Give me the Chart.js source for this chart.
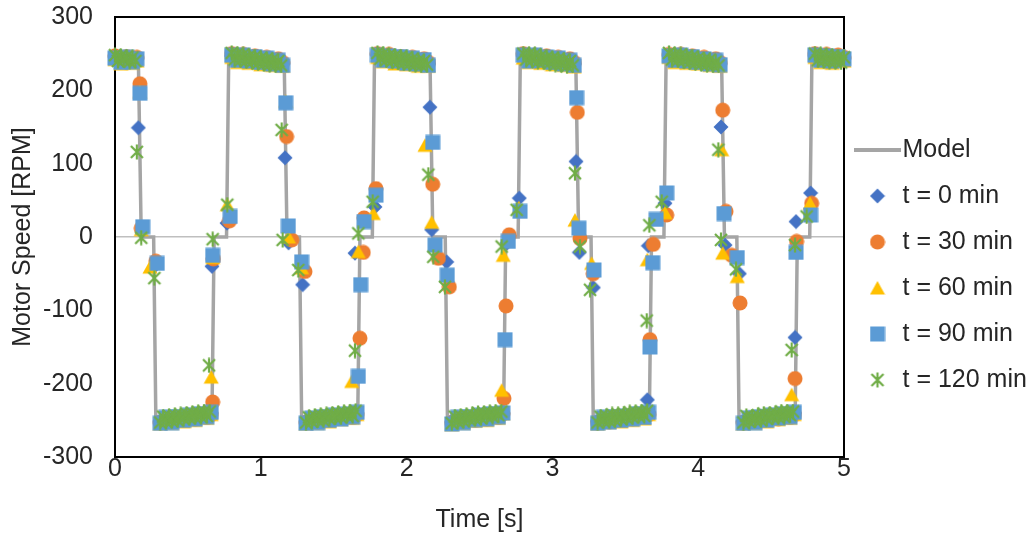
<!DOCTYPE html>
<html>
<head>
<meta charset="utf-8">
<script src="https://cdn.jsdelivr.net/npm/chart.js@4.4.1/dist/chart.umd.min.js"></script>
<style>
  html, body { margin: 0; padding: 0; background: #fff; }
  canvas { display: block; }
</style>
</head>
<body>
<canvas id="grafico" width="1034" height="535"></canvas>
<script>
const seriesNames = ["Model", "t = 0 min", "t = 30 min", "t = 60 min", "t = 90 min", "t = 120 min"];
const xTicks = [0, 1, 2, 3, 4, 5];
const yTicks = [-300, -200, -100, 0, 100, 200, 300];

// model curve
const modelTime = [0, 0.16, 0.18, 0.265, 0.28, 0.665, 0.68, 0.765, 0.78,
  1.16, 1.18, 1.265, 1.28, 1.665, 1.68, 1.765, 1.78,
  2.16, 2.18, 2.265, 2.28, 2.665, 2.68, 2.765, 2.78,
  3.16, 3.18, 3.265, 3.28, 3.665, 3.68, 3.765, 3.78,
  4.16, 4.18, 4.265, 4.28, 4.665, 4.68, 4.765, 4.78, 5];
const modelSpeed = [245, 245, 0, 0, -245, -245, 0, 0, 245,
  245, 0, 0, -245, -245, 0, 0, 245,
  245, 0, 0, -245, -245, 0, 0, 245,
  245, 0, 0, -245, -245, 0, 0, 245,
  245, 0, 0, -245, -245, 0, 0, 245, 245];

// plateau sample times for t = 0 ... 90 min
const sampleTimes = [0, 0.04, 0.08, 0.12, 0.15,
  0.31, 0.35, 0.39, 0.43, 0.47, 0.51, 0.55, 0.59, 0.63, 0.66,
  0.80, 0.84, 0.88, 0.92, 0.96, 1.00, 1.04, 1.08, 1.12, 1.15,
  1.31, 1.35, 1.39, 1.43, 1.47, 1.51, 1.55, 1.59, 1.63, 1.66,
  1.80, 1.84, 1.88, 1.92, 1.96, 2.00, 2.04, 2.08, 2.12, 2.15,
  2.31, 2.35, 2.39, 2.43, 2.47, 2.51, 2.55, 2.59, 2.63, 2.66,
  2.80, 2.84, 2.88, 2.92, 2.96, 3.00, 3.04, 3.08, 3.12, 3.15,
  3.31, 3.35, 3.39, 3.43, 3.47, 3.51, 3.55, 3.59, 3.63, 3.66,
  3.80, 3.84, 3.88, 3.92, 3.96, 4.00, 4.04, 4.08, 4.12, 4.15,
  4.31, 4.35, 4.39, 4.43, 4.47, 4.51, 4.55, 4.59, 4.63, 4.66,
  4.80, 4.84, 4.88, 4.92, 4.96, 5.00];

// plateau sample times for t = 120 min (denser)
const fineTimes = [0, 0.02, 0.04, 0.06, 0.08, 0.10, 0.12, 0.14,
  0.31, 0.33, 0.35, 0.37, 0.39, 0.41, 0.43, 0.45, 0.47, 0.49, 0.51, 0.53, 0.55, 0.57, 0.59, 0.61, 0.63, 0.65,
  0.80, 0.82, 0.84, 0.86, 0.88, 0.90, 0.92, 0.94, 0.96, 0.98, 1.00, 1.02, 1.04, 1.06, 1.08, 1.10, 1.12, 1.14,
  1.31, 1.33, 1.35, 1.37, 1.39, 1.41, 1.43, 1.45, 1.47, 1.49, 1.51, 1.53, 1.55, 1.57, 1.59, 1.61, 1.63, 1.65,
  1.80, 1.82, 1.84, 1.86, 1.88, 1.90, 1.92, 1.94, 1.96, 1.98, 2.00, 2.02, 2.04, 2.06, 2.08, 2.10, 2.12, 2.14,
  2.31, 2.33, 2.35, 2.37, 2.39, 2.41, 2.43, 2.45, 2.47, 2.49, 2.51, 2.53, 2.55, 2.57, 2.59, 2.61, 2.63, 2.65,
  2.80, 2.82, 2.84, 2.86, 2.88, 2.90, 2.92, 2.94, 2.96, 2.98, 3.00, 3.02, 3.04, 3.06, 3.08, 3.10, 3.12, 3.14,
  3.31, 3.33, 3.35, 3.37, 3.39, 3.41, 3.43, 3.45, 3.47, 3.49, 3.51, 3.53, 3.55, 3.57, 3.59, 3.61, 3.63, 3.65,
  3.80, 3.82, 3.84, 3.86, 3.88, 3.90, 3.92, 3.94, 3.96, 3.98, 4.00, 4.02, 4.04, 4.06, 4.08, 4.10, 4.12, 4.14,
  4.31, 4.33, 4.35, 4.37, 4.39, 4.41, 4.43, 4.45, 4.47, 4.49, 4.51, 4.53, 4.55, 4.57, 4.59, 4.61, 4.63, 4.65,
  4.80, 4.82, 4.84, 4.86, 4.88, 4.90, 4.92, 4.94, 4.96, 4.98, 5.00];

const speed0 = [245, 240, 244, 241, 243,
  -251, -246, -250, -245, -248, -243, -246, -241, -244, -240,
  247, 242, 246, 241, 245, 239, 243, 237, 241, 236,
  -251, -247, -250, -245, -248, -243, -246, -242, -244, -240,
  248, 242, 246, 240, 245, 239, 243, 238, 241, 236,
  -252, -246, -250, -245, -247, -243, -246, -241, -243, -240,
  247, 241, 246, 241, 244, 239, 243, 237, 241, 236,
  -251, -246, -249, -245, -248, -244, -246, -241, -244, -239,
  247, 242, 246, 241, 245, 240, 243, 237, 240, 236,
  -251, -246, -250, -244, -248, -243, -246, -241, -244, -240,
  247, 242, 246, 241, 245, 243];
const speed30 = [247, 242, 246, 243, 245,
  -253, -248, -252, -247, -250, -245, -248, -243, -246, -242,
  250, 244, 249, 243, 247, 241, 245, 239, 243, 238,
  -253, -249, -252, -247, -250, -245, -247, -243, -246, -242,
  250, 245, 249, 243, 246, 241, 245, 239, 243, 238,
  -254, -248, -252, -247, -250, -246, -248, -243, -246, -241,
  250, 244, 248, 243, 247, 241, 245, 240, 243, 238,
  -253, -248, -252, -246, -250, -245, -248, -243, -245, -242,
  249, 244, 249, 243, 247, 242, 245, 239, 243, 238,
  -253, -248, -251, -247, -250, -245, -248, -244, -246, -242,
  250, 244, 249, 243, 248, 245];
const speed60 = [242, 236, 241, 237, 240,
  -255, -249, -254, -248, -252, -246, -250, -244, -247, -242,
  245, 238, 244, 237, 242, 235, 240, 234, 238, 233,
  -255, -250, -254, -248, -252, -246, -249, -244, -247, -242,
  245, 239, 244, 236, 242, 235, 240, 233, 238, 233,
  -256, -249, -254, -248, -251, -246, -250, -245, -247, -241,
  244, 238, 244, 237, 241, 235, 240, 234, 238, 232,
  -255, -249, -253, -248, -252, -247, -250, -244, -248, -242,
  245, 238, 243, 237, 242, 236, 240, 234, 237, 233,
  -255, -250, -254, -248, -252, -246, -249, -244, -247, -242,
  245, 238, 244, 237, 243, 240];
const speed90 = [244, 238, 245, 239, 243,
  -254, -246, -253, -245, -250, -243, -248, -241, -245, -239,
  248, 241, 248, 240, 246, 238, 244, 236, 241, 234,
  -254, -247, -253, -245, -250, -243, -248, -242, -245, -239,
  248, 241, 247, 240, 246, 237, 244, 236, 242, 234,
  -255, -246, -253, -245, -249, -243, -248, -241, -245, -240,
  248, 240, 248, 241, 245, 238, 244, 236, 241, 234,
  -254, -246, -252, -245, -250, -244, -248, -241, -246, -239,
  247, 241, 248, 240, 246, 238, 243, 236, 241, 235,
  -254, -247, -253, -245, -250, -243, -247, -241, -245, -239,
  248, 241, 247, 240, 246, 243];
const speed120 = [248, 240, 247, 241, 246, 239, 245, 240,
  -253, -245, -252, -244, -251, -243, -250, -242, -248, -241, -247, -240, -246, -239, -245, -238, -244, -238,
  251, 242, 250, 241, 249, 240, 247, 239, 246, 237, 244, 236, 243, 235, 242, 234, 240, 234,
  -253, -246, -252, -244, -250, -243, -250, -242, -248, -241, -246, -240, -246, -239, -244, -238, -244, -237,
  251, 243, 250, 241, 248, 240, 247, 238, 246, 237, 245, 236, 243, 235, 241, 234, 240, 235,
  -254, -245, -252, -244, -251, -243, -249, -242, -248, -240, -247, -240, -245, -239, -245, -238, -243, -238,
  250, 242, 250, 241, 249, 239, 247, 239, 245, 237, 244, 235, 243, 235, 242, 233, 240, 234,
  -253, -245, -251, -244, -251, -242, -250, -242, -248, -241, -247, -239, -246, -239, -244, -238, -244, -237,
  251, 242, 249, 241, 249, 240, 247, 238, 246, 237, 244, 236, 242, 235, 242, 234, 239, 234,
  -253, -244, -252, -245, -250, -243, -250, -241, -248, -241, -246, -240, -246, -238, -245, -238, -243, -238,
  250, 241, 249, 240, 248, 239, 247, 239, 246, 238, 245];

// points caught during the reversals [time, speed]
const ramp0 = [[0.16, 149], [0.185, 8], [0.28, -38], [0.665, -40], [0.768, 19],
  [1.166, 108], [1.19, -8], [1.287, -65], [1.646, -22], [1.783, 41],
  [2.16, 177], [2.172, 10], [2.275, -34], [2.69, -8], [2.773, 53],
  [3.162, 103], [3.185, -21], [3.281, -69], [3.651, -222], [3.658, -12], [3.772, 46],
  [4.156, 150], [4.184, -11], [4.282, -50], [4.664, -137], [4.671, 21], [4.771, 60]];
const ramp30 = [[0.171, 209], [0.18, 12], [0.28, -33], [0.67, -225], [0.675, -30], [0.785, 22],
  [1.177, 137], [1.212, -4], [1.303, -47], [1.68, -138], [1.703, -21], [1.708, 26], [1.79, 66],
  [2.179, 72], [2.218, -29], [2.293, -68], [2.668, -220], [2.682, -94], [2.704, 3],
  [3.171, 170], [3.189, -2], [3.28, -50], [3.669, -140], [3.692, -10], [3.784, 30],
  [4.168, 173], [4.191, 35], [4.23, -25], [4.287, -90], [4.664, -193], [4.675, -6], [4.778, 46]];
const ramp60 = [[0.17, 198], [0.18, 10], [0.24, -41], [0.66, -191], [0.67, -28], [0.77, 44],
  [1.17, 185], [1.19, 0], [1.28, -42], [1.623, -197], [1.669, -20], [1.772, 32],
  [2.126, 125], [2.172, 20], [2.652, -209], [2.663, -25], [2.77, 40],
  [3.155, 23], [3.269, -36], [3.651, -31], [3.772, 33],
  [4.161, 119], [4.168, -22], [4.268, -54], [4.641, -215], [4.767, 46]];
const ramp90 = [[0.171, 196], [0.19, 14], [0.29, -36], [0.67, -25], [0.79, 28],
  [1.171, 183], [1.189, 15], [1.28, -34], [1.669, -190], [1.685, -65], [1.708, 21], [1.79, 57],
  [2.179, 129], [2.195, -11], [2.279, -52], [2.675, -140], [2.698, -6], [2.778, 35],
  [3.166, 190], [3.182, 12], [3.285, -45], [3.669, -150], [3.688, -35], [3.711, 24], [3.784, 60],
  [4.177, 32], [4.268, -28], [4.671, -21], [4.771, 30]];
const ramp120 = [[0.15, 116], [0.18, -1], [0.27, -56], [0.645, -175], [0.67, -3], [0.77, 44],
  [1.143, 146], [1.15, -4], [1.257, -45], [1.646, -155], [1.669, 5], [1.767, 48],
  [2.149, 85], [2.183, -27], [2.263, -68], [2.652, -13], [2.755, 37],
  [3.155, 87], [3.189, -13], [3.258, -72], [3.647, -114], [3.665, 16], [3.75, 48],
  [4.138, 119], [4.156, -4], [4.259, -44], [4.641, -154], [4.664, -11], [4.744, 28]];

const textColor = "#262626";
Chart.defaults.font.family = "'Liberation Sans', Arial, sans-serif";
Chart.defaults.font.size = 25;
Chart.defaults.color = textColor;

function puntos(times, values) {
  return times.map((t, i) => ({ x: t, y: values[i] }));
}
function pares(list) {
  return list.map(p => ({ x: p[0], y: p[1] }));
}

// excel-like markers drawn once into small canvases
function marcador(forma, color) {
  const c = document.createElement("canvas");
  c.width = 16;
  c.height = 16;
  const g = c.getContext("2d");
  g.fillStyle = color;
  g.strokeStyle = color;
  g.beginPath();
  if (forma === "circle") {
    g.arc(8, 8, 7.5, 0, Math.PI * 2);
    g.fill();
  } else if (forma === "square") {
    g.fillRect(0.5, 0.5, 15, 15);
  } else if (forma === "diamond") {
    g.moveTo(8, 0.5); g.lineTo(15.5, 8); g.lineTo(8, 15.5); g.lineTo(0.5, 8);
    g.closePath();
    g.fill();
  } else if (forma === "triangle") {
    g.moveTo(8, 1); g.lineTo(15.5, 14.5); g.lineTo(0.5, 14.5);
    g.closePath();
    g.fill();
  } else {
    g.lineWidth = 2.2;
    g.moveTo(2, 2); g.lineTo(14, 14);
    g.moveTo(14, 2); g.lineTo(2, 14);
    g.moveTo(8, 0.5); g.lineTo(8, 15.5);
    g.stroke();
  }
  return c;
}

function lineaLeyenda(color) {
  const c = document.createElement("canvas");
  c.width = 47;
  c.height = 4;
  const g = c.getContext("2d");
  g.fillStyle = color;
  g.fillRect(0, 0, 47, 4);
  return c;
}

const plotFrame = {
  id: "plotFrame",
  beforeDatasetsDraw(chart) {
    const { ctx, chartArea: a } = chart;
    ctx.save();
    ctx.strokeStyle = "#000";
    ctx.lineWidth = 2;
    ctx.strokeRect(a.left, a.top, a.right - a.left, a.bottom - a.top);
    ctx.restore();
  }
};

function serie(label, times, values, ramp, forma, color, order) {
  return {
    type: "scatter",
    label: label,
    data: puntos(times, values).concat(pares(ramp)),
    pointStyle: marcador(forma, color),
    pointRadius: 8,
    pointHoverRadius: 8,
    backgroundColor: color,
    borderColor: color,
    clip: false,
    order: order
  };
}

const ctx = document.getElementById("grafico").getContext("2d");
const chart = new Chart(ctx, {
  type: "scatter",
  data: {
    datasets: [
      {
        type: "line",
        label: seriesNames[0],
        data: puntos(modelTime, modelSpeed),
        borderColor: "#A5A5A5",
        backgroundColor: "#A5A5A5",
        borderWidth: 3.5,
        pointRadius: 0,
        pointStyle: lineaLeyenda("#A5A5A5"),
        tension: 0,
        fill: false,
        order: 6
      },
      serie(seriesNames[1], sampleTimes, speed0, ramp0, "diamond", "#4472C4", 5),
      serie(seriesNames[2], sampleTimes, speed30, ramp30, "circle", "#ED7D31", 4),
      serie(seriesNames[3], sampleTimes, speed60, ramp60, "triangle", "#FFC000", 3),
      serie(seriesNames[4], sampleTimes, speed90, ramp90, "square", "#5B9BD5", 2),
      serie(seriesNames[5], fineTimes, speed120, ramp120, "star", "#70AD47", 1)
    ]
  },
  options: {
    responsive: false,
    animation: false,
    layout: { padding: { top: 0, right: 0, bottom: 5, left: 0 } },
    plugins: {
      legend: {
        position: "right",
        reverse: true,
        maxWidth: 190,
        labels: {
          usePointStyle: true,
          boxWidth: 25,
          boxHeight: 25,
          padding: 21,
          color: textColor,
          font: { size: 25 }
        }
      },
      tooltip: { enabled: false }
    },
    scales: {
      x: {
        type: "linear",
        min: 0,
        max: 5,
        afterBuildTicks: s => { s.ticks = xTicks.map(v => ({ value: v })); },
        afterFit: s => { s.height = 73; },
        grid: { display: false, drawTicks: false },
        border: { display: false },
        ticks: { padding: 0, font: { size: 25, lineHeight: 1 } },
        title: { display: true, text: "Time [s]", padding: 0, font: { size: 25, lineHeight: 0.8 } }
      },
      y: {
        type: "linear",
        min: -300,
        max: 300,
        afterBuildTicks: s => { s.ticks = yTicks.map(v => ({ value: v })); },
        afterFit: s => { s.width = 115; },
        grid: {
          color: c => (c.tick && c.tick.value === 0 ? "#BFBFBF" : "rgba(0,0,0,0)"),
          lineWidth: 1.5,
          drawTicks: true,
          tickLength: 22,
          tickColor: "rgba(0,0,0,0)"
        },
        border: { display: false },
        ticks: { padding: 0, font: { size: 25, lineHeight: 1.36 } },
        title: { display: true, text: "Motor Speed [RPM]", padding: { top: 8, bottom: 0 }, font: { size: 25 } }
      }
    }
  },
  plugins: [plotFrame]
});
</script>
</body>
</html>
